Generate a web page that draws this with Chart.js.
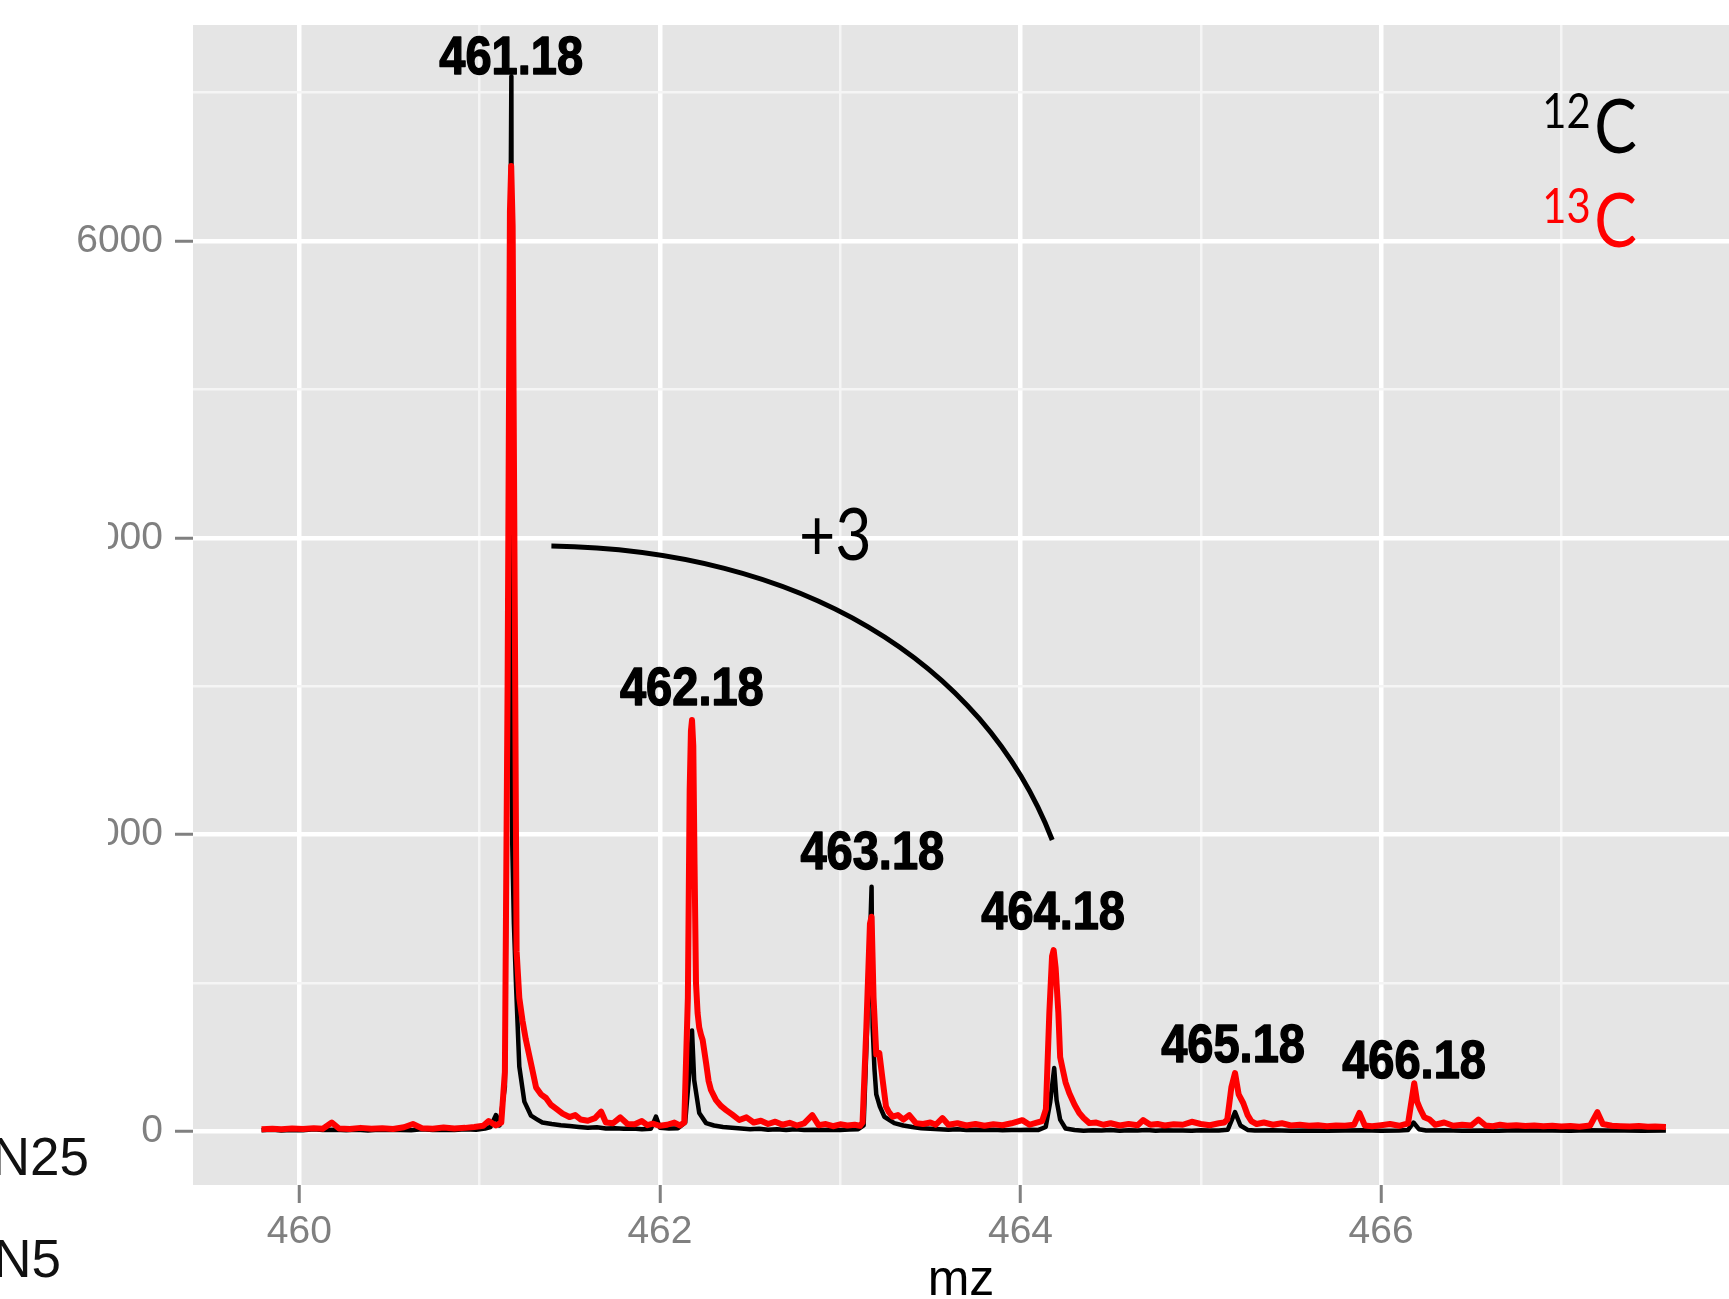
<!DOCTYPE html>
<html><head><meta charset="utf-8">
<script src="https://cdn.jsdelivr.net/npm/chart.js@4"></script>
<style>html,body{margin:0;padding:0;background:#fff;overflow:hidden}#wrap{width:1729px;height:1299px;position:relative}</style>
</head><body><div id="wrap"><canvas id="c" width="1729" height="1299"></canvas></div>
<script>
// [m/z, intensity]
const spectrum12C = [[459.79,8],[459.85,12],[459.9,6],[459.96,10],[460.02,8],[460.08,14],[460.13,9],[460.2,12],[460.26,8],[460.32,11],[460.38,7],[460.44,12],[460.5,9],[460.56,10],[460.62,8],[460.68,14],[460.74,9],[460.8,12],[460.86,10],[460.92,15],[460.98,12],[461.03,20],[461.06,30],[461.09,110],[461.11,40],[461.14,300],[461.16,3800],[461.176,7110],[461.181,1930],[461.19,1400],[461.202,981],[461.22,437],[461.248,201],[461.285,106],[461.32,80],[461.348,60],[461.4,50],[461.45,42],[461.5,36],[461.55,30],[461.6,25],[461.65,28],[461.7,20],[461.75,22],[461.8,18],[461.85,20],[461.9,15],[461.95,18],[461.978,100],[462.0,25],[462.05,20],[462.1,22],[462.14,60],[462.165,420],[462.178,680],[462.19,346],[462.218,124],[462.256,56],[462.3,40],[462.35,30],[462.4,25],[462.45,20],[462.5,15],[462.55,18],[462.6,12],[462.65,15],[462.7,10],[462.75,14],[462.8,10],[462.85,12],[462.9,9],[462.95,12],[463.0,10],[463.05,13],[463.1,15],[463.13,40],[463.155,900],[463.174,1649],[463.18,700],[463.19,420],[463.2,250],[463.22,167],[463.245,99],[463.3,56],[463.35,40],[463.4,30],[463.45,22],[463.5,18],[463.55,15],[463.6,12],[463.65,14],[463.7,10],[463.75,12],[463.8,9],[463.85,11],[463.9,8],[463.95,10],[464.0,9],[464.05,11],[464.1,10],[464.14,30],[464.165,200],[464.187,427],[464.2,212],[464.22,80],[464.25,20],[464.3,10],[464.35,5],[464.4,8],[464.45,6],[464.5,9],[464.55,5],[464.6,8],[464.65,6],[464.7,9],[464.75,5],[464.8,8],[464.85,6],[464.9,7],[464.95,5],[465.0,8],[465.05,6],[465.1,7],[465.15,12],[465.19,130],[465.22,40],[465.26,10],[465.3,6],[465.4,8],[465.5,5],[465.6,7],[465.7,5],[465.8,6],[465.9,8],[466.0,5],[466.1,7],[466.15,10],[466.18,60],[466.21,15],[466.25,6],[466.35,8],[466.45,5],[466.55,7],[466.65,5],[466.75,8],[466.85,6],[466.95,7],[467.05,5],[467.15,8],[467.25,6],[467.35,7],[467.45,5],[467.58,6]];
const spectrum13C = [[459.79,15],[459.85,18],[459.9,14],[459.96,20],[460.02,16],[460.08,22],[460.13,18],[460.18,60],[460.22,20],[460.28,17],[460.34,24],[460.4,18],[460.46,21],[460.52,16],[460.58,28],[460.63,50],[460.68,22],[460.74,18],[460.8,26],[460.86,20],[460.92,24],[460.97,30],[461.02,38],[461.05,70],[461.09,40],[461.12,60],[461.14,400],[461.155,3000],[461.168,6200],[461.175,6505],[461.183,6100],[461.195,3500],[461.205,1215],[461.22,900],[461.238,744],[461.256,620],[461.276,507],[461.295,400],[461.313,296],[461.34,250],[461.368,225],[461.395,180],[461.424,154],[461.46,120],[461.498,97],[461.53,110],[461.56,80],[461.6,72],[461.64,90],[461.674,133],[461.7,60],[461.74,55],[461.78,95],[461.82,50],[461.86,48],[461.9,70],[461.93,42],[461.96,52],[462.0,38],[462.04,45],[462.08,60],[462.11,40],[462.135,60],[462.155,900],[462.165,2300],[462.172,2700],[462.178,2772],[462.185,2600],[462.192,1800],[462.2,1000],[462.209,797],[462.218,700],[462.228,650],[462.237,616],[462.256,461],[462.27,340],[462.283,279],[462.311,211],[462.34,170],[462.367,144],[462.4,115],[462.44,77],[462.48,95],[462.52,60],[462.56,72],[462.6,50],[462.64,66],[462.68,45],[462.72,58],[462.76,40],[462.8,55],[462.845,110],[462.88,42],[462.92,50],[462.96,35],[463.0,48],[463.04,40],[463.08,45],[463.11,38],[463.124,60],[463.145,700],[463.165,1400],[463.174,1447],[463.185,900],[463.2,520],[463.217,528],[463.235,350],[463.254,167],[463.27,130],[463.291,99],[463.32,110],[463.35,80],[463.383,110],[463.42,56],[463.46,50],[463.5,60],[463.53,45],[463.567,90],[463.6,45],[463.65,55],[463.7,40],[463.75,50],[463.8,38],[463.85,48],[463.9,42],[463.95,55],[464.01,76],[464.05,45],[464.09,60],[464.12,70],[464.141,150],[464.16,800],[464.175,1180],[464.184,1222],[464.195,1100],[464.21,800],[464.22,500],[464.234,420],[464.25,330],[464.271,258],[464.3,180],[464.326,124],[464.35,90],[464.382,56],[464.42,60],[464.46,45],[464.5,55],[464.55,40],[464.6,50],[464.65,42],[464.68,76],[464.72,45],[464.76,50],[464.8,40],[464.85,48],[464.9,45],[464.95,65],[465.0,50],[465.05,42],[465.1,55],[465.13,60],[465.147,80],[465.17,300],[465.19,393],[465.21,250],[465.236,190],[465.26,110],[465.28,70],[465.31,50],[465.35,60],[465.4,45],[465.45,55],[465.5,40],[465.55,45],[465.6,38],[465.65,42],[465.7,35],[465.75,40],[465.8,38],[465.85,45],[465.88,125],[465.91,40],[465.95,35],[466.0,42],[466.05,50],[466.1,38],[466.15,55],[466.184,325],[466.2,200],[466.217,150],[466.24,95],[466.27,80],[466.3,45],[466.35,60],[466.4,38],[466.45,45],[466.5,40],[466.54,80],[466.58,40],[466.62,35],[466.66,45],[466.7,38],[466.75,42],[466.8,36],[466.85,40],[466.9,35],[466.95,38],[467.0,34],[467.05,36],[467.1,32],[467.16,40],[467.2,130],[467.23,50],[467.28,38],[467.33,35],[467.38,33],[467.43,36],[467.48,32],[467.52,34],[467.58,30]];

const xTickValues = [460,461,462,463,464,465,466,467];
const xTickLabels = ['460','','462','','464','','466',''];
const yTickValues = [0,1000,2000,3000,4000,5000,6000,7000];
const yTickLabels = ['0','','2000','','4000','','6000',''];

const peakLabels = ['461.18','462.18','463.18','464.18','465.18','466.18'];
const peakLabelMz = [461.175,462.177,463.178,464.181,465.179,466.183];
const peakLabelIntensity = [7225,2975,1870,1465,565,462];

// "+3" shift arc (start, control 1, control 2, end) in [m/z, intensity]
const shiftArc = [[461.398,3945],[462.773,3918],[463.788,3176],[464.176,1964]];
const shiftText = '+3';
const shiftTextPos = [462.973,3850];
const isotopeNames = [['12','C','#000000'],['13','C','#FF0000']];
const isotopeSupPos = [[466.894,6761],[466.894,6122]];
const isotopeMainPos = [[467.183,6593],[467.183,5960]];
const sideLabels = ['N25','N5'];

const GREY = '#808080';
const isMajor = (v, arr, labels) => labels[arr.indexOf(v)] !== '';

const decor = {
  id: 'decor',
  beforeDraw(chart) {
    const {ctx, chartArea: a} = chart;
    ctx.save();
    ctx.fillStyle = '#ffffff';
    ctx.fillRect(0, 0, chart.width, chart.height);
    ctx.fillStyle = '#E5E5E5';
    ctx.fillRect(a.left, a.top, a.right - a.left, a.bottom - a.top);
    ctx.restore();
  },
  afterDatasetsDraw(chart) {
    const {ctx} = chart;
    const xs = chart.scales.x, ys = chart.scales.y;
    const px = v => xs.getPixelForValue(v), py = v => ys.getPixelForValue(v);
    ctx.save();
    ctx.beginPath();
    ctx.moveTo(px(shiftArc[0][0]), py(shiftArc[0][1]));
    ctx.bezierCurveTo(px(shiftArc[1][0]), py(shiftArc[1][1]), px(shiftArc[2][0]), py(shiftArc[2][1]), px(shiftArc[3][0]), py(shiftArc[3][1]));
    ctx.lineWidth = 5; ctx.strokeStyle = '#000'; ctx.stroke();
    ctx.fillStyle = '#000';
    ctx.font = 'bold 47px "Liberation Sans", Arial, sans-serif';
    ctx.textAlign = 'center'; ctx.textBaseline = 'middle';
    ctx.lineWidth = 1.3; ctx.lineJoin = 'round';
    peakLabels.forEach((t, i) => {
      ctx.save();
      ctx.translate(px(peakLabelMz[i]), py(peakLabelIntensity[i]));
      ctx.scale(1, 1.14);
      ctx.fillText(t, 0, 0);
      ctx.strokeText(t, 0, 0);
      ctx.restore();
    });
    ctx.textBaseline = 'alphabetic';
    ctx.save();
    ctx.translate(px(shiftTextPos[0]), py(shiftTextPos[1]));
    ctx.scale(0.87, 1);
    ctx.font = '72px Lato, "Open Sans", sans-serif';
    ctx.textAlign = 'center';
    ctx.fillText(shiftText, 0, 0);
    ctx.restore();
    isotopeNames.forEach((n, i) => {
      ctx.fillStyle = n[2];
      ctx.textAlign = 'left';
      ctx.save();
      ctx.translate(px(isotopeSupPos[i][0]), py(isotopeSupPos[i][1]));
      ctx.scale(0.87, 1);
      ctx.font = '48px Lato, "Open Sans", sans-serif';
      ctx.fillText(n[0], 0, 0);
      ctx.restore();
      ctx.save();
      ctx.translate(px(isotopeMainPos[i][0]), py(isotopeMainPos[i][1]));
      ctx.scale(0.84, 1);
      ctx.font = '76px Lato, "Open Sans", sans-serif';
      ctx.fillText(n[1], 0, 0);
      ctx.restore();
    });
    ctx.restore();
  },
  afterDraw(chart) {
    const {ctx} = chart;
    const ys = chart.scales.y;
    ctx.save();
    ctx.fillStyle = '#ffffff';
    const t = ys.getPixelForValue(5500), b = ys.getPixelForValue(1000);
    ctx.fillRect(0, t, 108, b - t);
    ctx.fillStyle = '#111';
    ctx.font = '53px "Liberation Sans", Arial, sans-serif';
    ctx.textAlign = 'right'; ctx.textBaseline = 'alphabetic';
    ctx.fillText(sideLabels[0], 89, 1175);
    ctx.fillText(sideLabels[1], 61, 1277);
    ctx.restore();
  }
};

const gridOpts = (vals, labels) => ({
  color: c => (c.tick && isMajor(c.tick.value, vals, labels)) ? '#FFFFFF' : '#F5F5F5',
  lineWidth: c => (c.tick && isMajor(c.tick.value, vals, labels)) ? 4.5 : 2.5,
  tickColor: c => (c.tick && isMajor(c.tick.value, vals, labels)) ? GREY : 'rgba(0,0,0,0)',
  tickWidth: 3,
  tickLength: 18,
  drawTicks: true,
  drawOnChartArea: true
});

new Chart(document.getElementById('c'), {
  type: 'scatter',
  data: {
    datasets: [
      {label: '13C', data: spectrum13C.map(p => ({x: p[0], y: p[1]})), showLine: true, borderColor: '#FF0000', backgroundColor: '#FF0000', borderWidth: 6, pointRadius: 0, tension: 0, fill: false, borderJoinStyle: 'round'},
      {label: '12C', data: spectrum12C.map(p => ({x: p[0], y: p[1]})), showLine: true, borderColor: '#000000', backgroundColor: '#000000', borderWidth: 4.5, pointRadius: 0, tension: 0, fill: false, borderJoinStyle: 'round'}
    ]
  },
  options: {
    responsive: false, animation: false, devicePixelRatio: 1,
    layout: {padding: {left: 0, top: 25, right: 0, bottom: 0}},
    plugins: {legend: {display: false}, tooltip: {enabled: false}},
    scales: {
      x: {
        type: 'linear', position: 'bottom', min: 459.41, max: 467.93,
        afterBuildTicks: s => { s.ticks = xTickValues.map(v => ({value: v})); },
        afterFit: s => { s.height = 114; s.paddingLeft = 0; s.paddingRight = 0; },
        ticks: {autoSkip: false, maxRotation: 0, minRotation: 0, padding: 6, color: GREY,
          font: {family: '"Liberation Sans", Arial, sans-serif', size: 39},
          callback: (v, i) => xTickLabels[i]},
        grid: gridOpts(xTickValues, xTickLabels),
        border: {display: false},
        title: {display: true, text: 'mz', color: '#000', font: {family: '"Liberation Sans", Arial, sans-serif', size: 50, lineHeight: 0.7}, padding: {top: 0, bottom: 0}}
      },
      y: {
        type: 'linear', position: 'left', min: -361, max: 7456,
        afterBuildTicks: s => { s.ticks = yTickValues.map(v => ({value: v})); },
        afterFit: s => { s.width = 193; s.paddingTop = 0; s.paddingBottom = 0; },
        ticks: {autoSkip: false, padding: 12, color: GREY,
          font: {family: '"Liberation Sans", Arial, sans-serif', size: 39},
          callback: (v, i) => yTickLabels[i]},
        grid: gridOpts(yTickValues, yTickLabels),
        border: {display: false}
      }
    }
  },
  plugins: [decor]
});
</script></body></html>
